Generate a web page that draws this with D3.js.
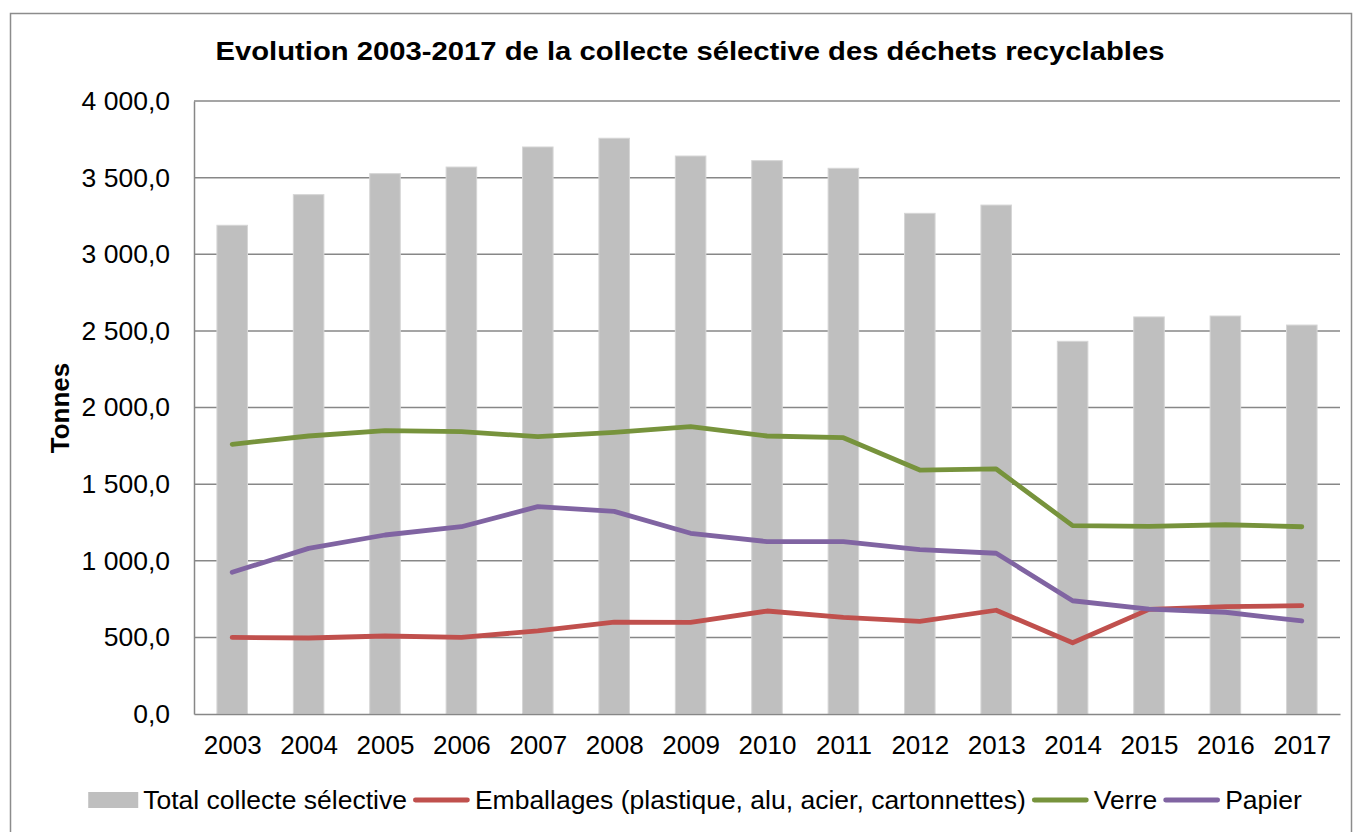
<!DOCTYPE html>
<html>
<head>
<meta charset="utf-8">
<script src="https://cdn.jsdelivr.net/npm/d3@7"></script>
<style>
  html, body { margin: 0; padding: 0; background: #fff; }
  svg { display: block; font-family: "Liberation Sans", Arial, sans-serif; }
</style>
</head>
<body>
<svg id="chart" width="1360" height="832"></svg>
<script>
// Tonnages collected per year
const years = ["2003","2004","2005","2006","2007","2008","2009","2010","2011","2012","2013","2014","2015","2016","2017"];
const totalCollecte = [3189, 3389, 3526, 3569, 3700, 3757, 3641, 3611, 3561, 3267, 3321, 2432, 2591, 2597, 2538];
const emballages   = [500, 496, 509, 500, 542, 600, 598, 672, 631, 604, 677, 465, 683, 700, 707];
const verre        = [1760, 1814, 1849, 1842, 1810, 1838, 1875, 1814, 1803, 1592, 1599, 1229, 1224, 1235, 1222];
const papier       = [925, 1081, 1168, 1222, 1353, 1322, 1179, 1125, 1125, 1073, 1049, 739, 685, 664, 607];
const yTicks = [0, 500, 1000, 1500, 2000, 2500, 3000, 3500, 4000];

const titleText = "Evolution 2003-2017 de la collecte sélective des déchets recyclables";
const yAxisTitle = "Tonnes";
const legendLabels = ["Total collecte sélective", "Emballages (plastique, alu, acier, cartonnettes)", "Verre", "Papier"];

const lineSeries = [
  { name: legendLabels[1], values: emballages, color: "#c0504d" },
  { name: legendLabels[2], values: verre, color: "#77933c" },
  { name: legendLabels[3], values: papier, color: "#8064a2" }
];

const FONT = "Liberation Sans, Arial, sans-serif";
const svg = d3.select("#chart");
const margin = { left: 194, top: 101 };
const plotW = 1340 - margin.left;
const plotH = 714 - margin.top;

const fr = d3.formatLocale({ decimal: ",", thousands: " ", grouping: [3], currency: ["", ""] });
const fmt = fr.format(",.1f");

// Outer chart frame
svg.append("rect")
  .attr("x", 10.5).attr("y", 13.5)
  .attr("width", 1341).attr("height", 830)
  .attr("fill", "#fff").attr("stroke", "#8c8c8c").attr("stroke-width", 1.5);

const x = d3.scaleBand().domain(years).range([0, plotW]).paddingInner(0.6).paddingOuter(0.3);
const xc = d3.scalePoint().domain(years).range([0, plotW]).padding(0.5);
const y = d3.scaleLinear().domain([0, 4000]).range([plotH, 0]);

const g = svg.append("g").attr("transform", `translate(${margin.left},${margin.top})`);

// Horizontal gridlines
g.append("g")
  .selectAll("line")
  .data(yTicks.filter(d => d > 0))
  .join("line")
  .attr("x1", 0).attr("x2", plotW)
  .attr("y1", d => y(d)).attr("y2", d => y(d))
  .attr("stroke", "#878787").attr("stroke-width", 1.5);

// Bars: total
g.append("g")
  .selectAll("rect")
  .data(years)
  .join("rect")
  .attr("x", d => x(d))
  .attr("y", (d, i) => y(totalCollecte[i]))
  .attr("width", x.bandwidth())
  .attr("height", (d, i) => plotH - y(totalCollecte[i]))
  .attr("fill", "#bfbfbf")
  .attr("stroke", "#d6d6d6").attr("stroke-width", 1);

// Y axis
const yAxis = g.append("g")
  .call(d3.axisLeft(y).tickValues(yTicks).tickFormat(fmt).tickSize(0).tickPadding(24));
yAxis.select(".domain").attr("stroke", "#878787").attr("stroke-width", 1.5);
yAxis.selectAll("text")
  .attr("font-size", 26.5).attr("fill", "#000")
  .attr("font-family", FONT);

// X axis
const xAxis = g.append("g")
  .attr("transform", `translate(0,${plotH})`)
  .call(d3.axisBottom(xc).tickSize(0).tickPadding(22));
xAxis.select(".domain").attr("stroke", "#878787").attr("stroke-width", 1.5);
xAxis.selectAll("text")
  .attr("font-size", 26).attr("fill", "#000")
  .attr("font-family", FONT);

// Lines
const line = d3.line()
  .x((d, i) => xc(years[i]))
  .y(d => y(d));

g.append("g")
  .selectAll("path")
  .data(lineSeries)
  .join("path")
  .attr("d", s => line(s.values))
  .attr("fill", "none")
  .attr("stroke", s => s.color)
  .attr("stroke-width", 4.8)
  .attr("stroke-linejoin", "round")
  .attr("stroke-linecap", "round");

// Title
svg.append("text")
  .attr("x", 690).attr("y", 60)
  .attr("text-anchor", "middle")
  .attr("font-size", 26).attr("font-weight", "bold")
  .attr("font-family", FONT)
  .attr("textLength", 949).attr("lengthAdjust", "spacingAndGlyphs")
  .text(titleText);

// Y axis title
svg.append("text")
  .attr("transform", "translate(69,408) rotate(-90)")
  .attr("text-anchor", "middle")
  .attr("font-size", 26).attr("font-weight", "bold")
  .attr("font-family", FONT)
  .text(yAxisTitle);

// Legend
const legend = svg.append("g");
const legendItems = [
  { label: legendLabels[0], type: "bar", color: "#bfbfbf" },
  { label: legendLabels[1], type: "line", color: lineSeries[0].color },
  { label: legendLabels[2], type: "line", color: lineSeries[1].color },
  { label: legendLabels[3], type: "line", color: lineSeries[2].color }
];
const legendY = 800;
let cursor = 0;
legendItems.forEach(item => {
  const grp = legend.append("g");
  const symW = item.type === "bar" ? 50 : 57;
  if (item.type === "bar") {
    grp.append("rect")
      .attr("x", 0).attr("y", legendY - 8)
      .attr("width", symW).attr("height", 16)
      .attr("fill", item.color);
  } else {
    grp.append("line")
      .attr("x1", 2.5).attr("x2", symW - 2.5)
      .attr("y1", legendY).attr("y2", legendY)
      .attr("stroke", item.color).attr("stroke-width", 4.8)
      .attr("stroke-linecap", "round");
  }
  const t = grp.append("text")
    .attr("x", symW + 5).attr("y", legendY + 8.5)
    .attr("font-size", 26.5)
    .attr("font-family", FONT)
    .text(item.label);
  const w = symW + 5 + t.node().getComputedTextLength();
  grp.attr("transform", `translate(${cursor},0)`);
  cursor += w + 6;
});
const totalW = cursor - 6;
legend.attr("transform", `translate(${695 - totalW / 2},0)`);
</script>
</body>
</html>
